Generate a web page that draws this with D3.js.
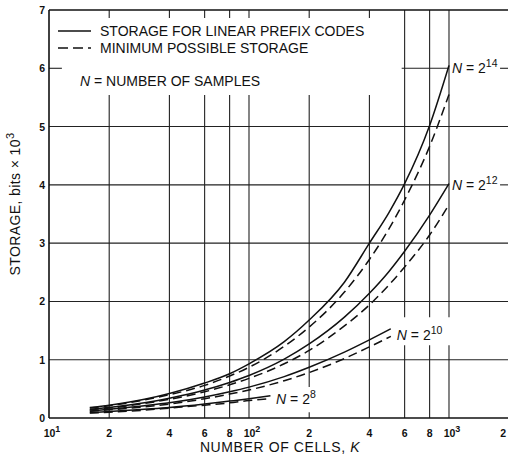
<!DOCTYPE html>
<html>
<head>
<meta charset="utf-8">
<script src="https://cdn.jsdelivr.net/npm/d3@7"></script>
<style>
  body { margin: 0; background: #fff; }
  text { font-family: "Liberation Sans", Arial, sans-serif; fill: #111; }
</style>
</head>
<body>
<script>
// Chart data (storage in bits x 10^3)
var kLong = [16, 20, 30, 40, 60, 80, 100, 150, 200, 300, 400, 500, 600, 800, 1000];
var k2_10 = [16, 20, 30, 40, 60, 80, 100, 150, 200, 300, 400, 512];
var k2_8 = [16, 20, 30, 40, 60, 80, 100, 128];

var solid14 = [0.18, 0.22, 0.32, 0.42, 0.60, 0.76, 0.93, 1.31, 1.68, 2.33, 3.00, 3.52, 4.02, 5.02, 6.05];
var dashed14 = [0.17, 0.21, 0.31, 0.40, 0.56, 0.72, 0.87, 1.23, 1.56, 2.16, 2.72, 3.24, 3.74, 4.66, 5.55];
var solid12 = [0.15, 0.18, 0.26, 0.34, 0.48, 0.61, 0.73, 1.01, 1.27, 1.73, 2.14, 2.51, 2.86, 3.48, 4.02];
var dashed12 = [0.14, 0.17, 0.25, 0.32, 0.45, 0.57, 0.68, 0.93, 1.16, 1.58, 1.94, 2.28, 2.59, 3.14, 3.66];
var solid10 = [0.12, 0.15, 0.21, 0.26, 0.36, 0.45, 0.53, 0.71, 0.87, 1.13, 1.34, 1.53];
var dashed10 = [0.115, 0.14, 0.19, 0.24, 0.33, 0.41, 0.48, 0.64, 0.78, 1.02, 1.22, 1.40];
var solid8 = [0.09, 0.11, 0.15, 0.18, 0.24, 0.29, 0.33, 0.38];
var dashed8 = [0.085, 0.10, 0.135, 0.17, 0.22, 0.26, 0.30, 0.33];

var yTicks = [0, 1, 2, 3, 4, 5, 6, 7];
var xTicks = [10, 20, 40, 60, 80, 100, 200, 400, 600, 800, 1000, 2000];
var xTickText = ["10", "2", "4", "6", "8", "10", "2", "4", "6", "8", "10", "2"];
var xTickSup = ["1", "", "", "", "", "2", "", "", "", "", "3", ""];

// Chart params
var svgWidth = 508;
var svgHeight = 459;

var svg = d3.select("body")
  .append("svg")
  .attr("width", svgWidth)
  .attr("height", svgHeight);

var x = d3.scaleLog().domain([10, 2000]).range([49, 509.2]);
var y = d3.scaleLinear().domain([0, 7]).range([418, 10]);

var grid = svg.append("g").attr("stroke", "#222").attr("stroke-width", 1.1);

// horizontal grid, with the gaps the figure leaves for labels
var hSegs = [
  [1, 10, 2000], [2, 10, 2000], [3, 10, 2000], [5, 10, 2000],
  [4, 10, 1000], [4, 1800, 2000],
  [6, 10, 11.6], [6, 580, 1000], [6, 1800, 2000]
];
hSegs.forEach(function(s) {
  grid.append("line")
    .attr("x1", x(s[1])).attr("x2", x(s[2]))
    .attr("y1", y(s[0])).attr("y2", y(s[0]));
});

// vertical grid
var vSegs = [
  [20, 0, 5.54], [40, 0, 5.54], [60, 0, 5.54], [80, 0, 5.54], [100, 0, 5.54],
  [200, 0, 0.1], [200, 0.53, 5.54], [400, 0, 5.54],
  [600, 0, 1.25], [600, 1.73, 7], [800, 0, 1.25], [800, 1.73, 7],
  [1000, 0, 1.25], [1000, 1.73, 7]
];
vSegs.forEach(function(s) {
  grid.append("line")
    .attr("x1", x(s[0])).attr("x2", x(s[0]))
    .attr("y1", y(s[1])).attr("y2", y(s[2]));
});
// short ticks hanging from the top frame
[20, 40, 60, 80, 100, 200, 400].forEach(function(k) {
  grid.append("line")
    .attr("x1", x(k)).attr("x2", x(k))
    .attr("y1", y(7)).attr("y2", y(7) + 8);
});

// frame
var frame = svg.append("g").attr("stroke", "#111").attr("stroke-width", 1.6).attr("fill", "none");
frame.append("line").attr("x1", x(10)).attr("x2", x(10)).attr("y1", y(0)).attr("y2", y(7));
frame.append("line").attr("x1", x(10)).attr("x2", x(2000)).attr("y1", y(7)).attr("y2", y(7));
frame.append("line").attr("x1", x(10)).attr("x2", x(2000)).attr("y1", y(0)).attr("y2", y(0));

// tick labels
svg.append("g").selectAll("text")
  .data(yTicks)
  .enter()
  .append("text")
  .attr("x", 45)
  .attr("y", d => y(d) + 4)
  .attr("text-anchor", "end")
  .attr("font-size", 10.5)
  .attr("font-weight", "bold")
  .text(d => d);

var xt = svg.append("g").selectAll("text")
  .data(xTicks)
  .enter()
  .append("text")
  .attr("x", (d, i) => i === xTicks.length - 1 ? x(d) - 6 : x(d) + (xTickSup[i] ? 3 : 0))
  .attr("y", 437)
  .attr("text-anchor", "middle")
  .attr("font-size", 10.5)
  .attr("font-weight", "bold");
xt.append("tspan").text((d, i) => xTickText[i]);
xt.append("tspan")
  .attr("dy", -5)
  .attr("font-size", 9)
  .text((d, i) => xTickSup[i]);

// axis titles
var xTitle = svg.append("text")
  .attr("x", 280)
  .attr("y", 452)
  .attr("text-anchor", "middle")
  .attr("font-size", 14)
  .attr("letter-spacing", 0.6);
xTitle.append("tspan").text("NUMBER OF CELLS, ");
xTitle.append("tspan").attr("font-style", "italic").text("K");

var yTitle = svg.append("text")
  .attr("text-anchor", "middle")
  .attr("transform", "translate(20, 204)rotate(-90)")
  .attr("font-size", 14)
  .attr("letter-spacing", 0.4);
yTitle.append("tspan").text("STORAGE,  bits × 10");
yTitle.append("tspan").attr("dy", -6).attr("font-size", 11).text("3");

// curves
var line = d3.line()
  .x(d => x(d[0]))
  .y(d => y(d[1]))
  .curve(d3.curveMonotoneX);

var series = [
  [kLong, solid14, false], [kLong, dashed14, true],
  [kLong, solid12, false], [kLong, dashed12, true],
  [k2_10, solid10, false], [k2_10, dashed10, true],
  [k2_8, solid8, false], [k2_8, dashed8, true]
];
series.forEach(function(s) {
  var pts = s[0].map((k, i) => [k, s[1][i]]);
  svg.append("path")
    .attr("d", line(pts))
    .attr("fill", "none")
    .attr("stroke", "#111")
    .attr("stroke-width", 1.5)
    .attr("stroke-dasharray", s[2] ? "9,5" : null);
});

// curve labels
var curveLabels = [
  { k: 1000, v: 6.0, exp: "14" },
  { k: 1000, v: 4.0, exp: "12" },
  { k: 530, v: 1.42, exp: "10" },
  { k: 132, v: 0.33, exp: "8" }
];
curveLabels.forEach(function(c) {
  var t = svg.append("text")
    .attr("x", x(c.k) + 3)
    .attr("y", y(c.v) + 5)
    .attr("font-size", 14);
  t.append("tspan").attr("font-style", "italic").text("N");
  t.append("tspan").text(" = 2");
  t.append("tspan").attr("dy", -6).attr("font-size", 10.5).text(c.exp);
});

// legend
svg.append("line")
  .attr("x1", 58).attr("x2", 91).attr("y1", 31).attr("y2", 31)
  .attr("stroke", "#111").attr("stroke-width", 1.6);
svg.append("line")
  .attr("x1", 58).attr("x2", 91).attr("y1", 48).attr("y2", 48)
  .attr("stroke", "#111").attr("stroke-width", 1.6)
  .attr("stroke-dasharray", "10,5");
svg.append("text").attr("x", 100).attr("y", 36).attr("font-size", 14)
  .text("STORAGE FOR LINEAR PREFIX CODES");
svg.append("text").attr("x", 100).attr("y", 53).attr("font-size", 14)
  .text("MINIMUM POSSIBLE STORAGE");
var nNote = svg.append("text").attr("x", 80).attr("y", 86).attr("font-size", 14);
nNote.append("tspan").attr("font-style", "italic").text("N");
nNote.append("tspan").text(" = NUMBER OF SAMPLES");
</script>
</body>
</html>
